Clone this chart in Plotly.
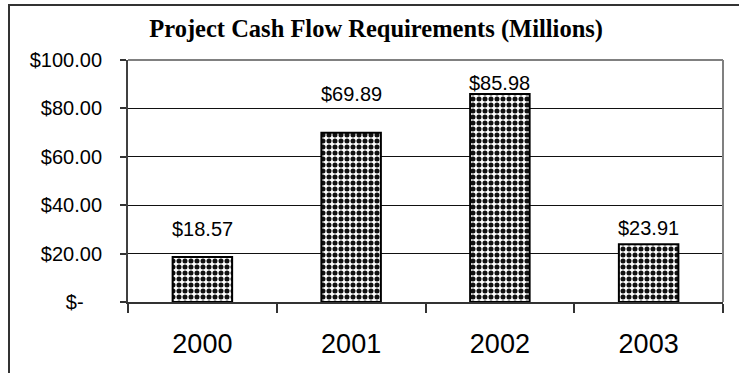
import plotly.graph_objects as go

# Annual cash flow requirements, millions of dollars
years = ["2000", "2001", "2002", "2003"]
requirements = [18.57, 69.89, 85.98, 23.91]

# Value-axis ticks (accounting style, zero shown as a dash)
y_tick_vals = [0, 20, 40, 60, 80, 100]
y_tick_text = ["$-\u2007\u00a0\u200a", "$20.00", "$40.00", "$60.00", "$80.00", "$100.00"]

# Vertical offsets (px) of each value label above its bar top
label_lift = [27, 38, 10, 15]

sans = "Liberation Sans, Arial, sans-serif"
serif = "Liberation Serif, Times New Roman, serif"

fig = go.Figure()
fig.add_trace(go.Bar(
    x=years,
    y=requirements,
    width=0.4,
    marker=dict(
        color="white",
        line=dict(color="black", width=2),
        pattern=dict(shape=".", fgcolor="#111111", bgcolor="white",
                     size=6, solidity=0.55, fillmode="replace"),
    ),
    hoverinfo="skip",
))

# Value labels; numeric-looking year strings would be read as category
# indices by annotations, so the category position is passed explicitly
for idx, (val, lift) in enumerate(zip(requirements, label_lift)):
    fig.add_annotation(
        x=idx, y=val, xref="x", yref="y",
        text=f"${val:.2f}", showarrow=False,
        yanchor="bottom", yshift=lift - 12,
        font=dict(family=sans, size=20, color="black"),
    )

# Outer chart-area border
fig.add_shape(type="rect", xref="paper", yref="paper",
              x0=-0.2, x1=1.08, y0=-0.4, y1=1.227,
              line=dict(color="#333333", width=2), layer="below")
# Grey plot-area frame on top and right
fig.add_shape(type="line", xref="paper", yref="paper", x0=0, x1=1, y0=1, y1=1,
              line=dict(color="#808080", width=2), layer="above")
fig.add_shape(type="line", xref="paper", yref="paper", x0=1, x1=1, y0=0, y1=1,
              line=dict(color="#808080", width=2), layer="above")

fig.update_layout(
    width=739, height=373,
    margin=dict(l=128, r=16, t=60, b=71),
    paper_bgcolor="white", plot_bgcolor="white",
    showlegend=False,
    title=dict(text="<b>Project Cash Flow Requirements (Millions)</b>",
               x=0.509, xanchor="center", y=0.925, yanchor="middle",
               font=dict(family=serif, size=24.5, color="black")),
)
fig.update_xaxes(
    type="category", categoryorder="array", categoryarray=years,
    range=[-0.5, len(years) - 0.5], tickson="boundaries",
    ticks="outside", ticklen=9, tickwidth=1.5, tickcolor="#333333",
    showline=True, linecolor="#333333", linewidth=2,
    showgrid=False, zeroline=False,
    tickfont=dict(family=sans, size=27, color="black"),
    ticklabelstandoff=17,
)
fig.update_yaxes(
    range=[0, 100],
    tickmode="array", tickvals=y_tick_vals, ticktext=y_tick_text,
    ticks="outside", ticklen=6, tickwidth=1.5, tickcolor="#333333",
    showline=True, linecolor="#404040", linewidth=2,
    showgrid=True, gridcolor="#111111", gridwidth=1,
    zeroline=False,
    tickfont=dict(family=sans, size=20, color="black"),
    ticklabelstandoff=14,
)

fig.write_html("out.html")
